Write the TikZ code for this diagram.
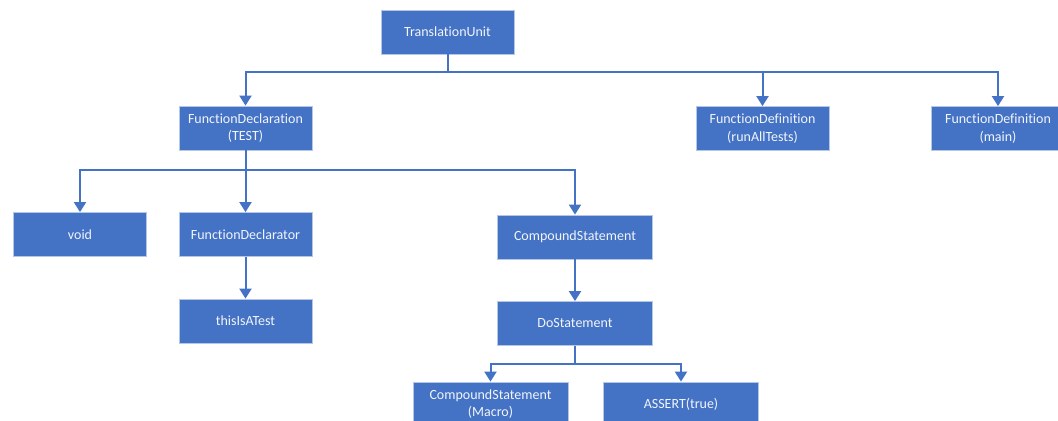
\documentclass[tikz,border=0pt]{standalone}
\usepackage{fontspec}
\setmainfont{Carlito}[Ligatures={NoCommon}]
\usetikzlibrary{arrows.meta}
\definecolor{boxfill}{HTML}{4472C4}
\definecolor{boxborder}{HTML}{B4C7E7}
\definecolor{linecol}{HTML}{4472C4}
\definecolor{txt}{HTML}{F2F5FB}
\tikzset{
  box/.style={draw=boxborder, fill=boxfill, text=txt, line width=0.6pt,
    font=\fontsize{10.5}{13}\selectfont, align=center, inner sep=0pt,
    minimum width=99.75pt, minimum height=33pt},
  widebox/.style={box, minimum width=116.25pt},
  conn/.style={draw=linecol, line width=1.5pt,
    -{Triangle[width=9pt,length=7.5pt]}},
}
\begin{document}
\begin{tikzpicture}[x=0.75pt,y=-0.75pt]
\useasboundingbox (0,0) rectangle (1058,421);
\clip (0,0) rectangle (1058,421);
\node[box] (tu) at (447.5,32) {TranslationUnit};
\node[box] (fd) at (245.5,128) {FunctionDeclaration\\(TEST)};
\node[box] (fdr) at (762.5,128.5) {FunctionDefinition\\(runAllTests)};
\node[box] (fdm) at (998,128.5) {FunctionDefinition\\(main)};
\node[box] (void) at (80,234.5) {void};
\node[box] (fdecl) at (245.5,234.5) {FunctionDeclarator};
\node[box] (this) at (245.5,321) {thisIsATest};
\node[widebox] (cs) at (575,237) {CompoundStatement};
\node[widebox] (do) at (575,323.5) {DoStatement};
\node[widebox] (csm) at (490.5,404) {CompoundStatement\\(Macro)};
\node[widebox] (as) at (681,404) {ASSERT(true)};
\coordinate (b1) at (447.5,71.5);
\coordinate (b2) at (245.5,170);
\coordinate (b3) at (575,364);
\draw[conn] (tu.south) -- (b1) -| (fd.north);
\draw[conn] (tu.south) -- (b1) -| (fdr.north);
\draw[conn] (tu.south) -- (b1) -| (fdm.north);
\draw[conn] (fd.south) -- (b2) -| (void.north);
\draw[conn] (fd.south) -- (fdecl.north);
\draw[conn] (fd.south) -- (b2) -| (cs.north);
\draw[conn] (fdecl.south) -- (this.north);
\draw[conn] (cs.south) -- (do.north);
\draw[conn] (do.south) -- (b3) -| (csm.north);
\draw[conn] (do.south) -- (b3) -| (as.north);
\end{tikzpicture}
\end{document}
